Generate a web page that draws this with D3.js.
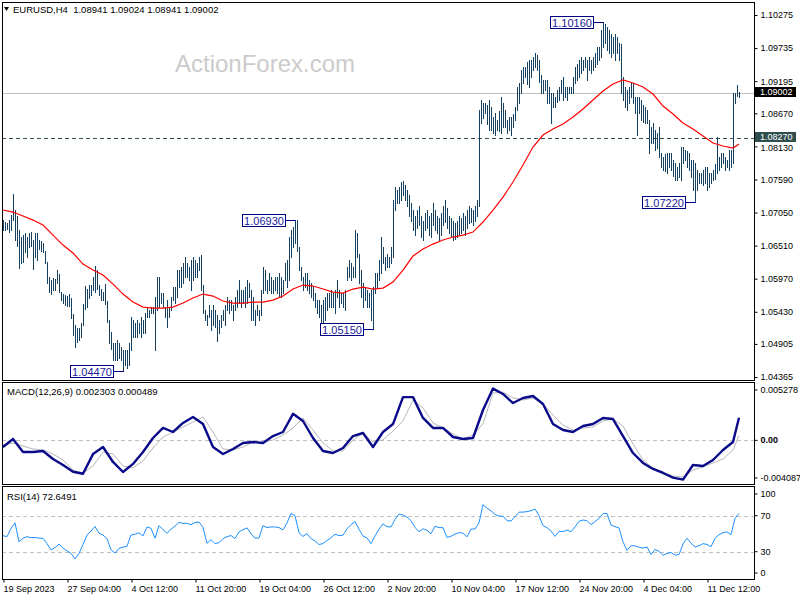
<!DOCTYPE html>
<html><head><meta charset="utf-8"><title>EURUSD H4</title>
<script src="https://cdn.jsdelivr.net/npm/d3@7"></script>
<style>
html,body{margin:0;padding:0;background:#fff;}
svg{display:block;font-family:"Liberation Sans",Arial,sans-serif;}
</style></head><body>
<svg id="chart" width="800" height="600"></svg>
<script>
// ---------------- DATA ----------------
const symbolTitle = "EURUSD,H4  1.08941 1.09024 1.08941 1.09002";
const macdTitle = "MACD(12,26,9) 0.002303 0.000489";
const rsiTitle = "RSI(14) 72.6491";
const watermark = "ActionForex.com";

const timeBars = [0,32,64,96,128,160,192,224,256,288,320,352];
const timeLabels = ["19 Sep 2023","27 Sep 04:00","4 Oct 12:00","11 Oct 20:00","19 Oct 04:00","26 Oct 12:00","2 Nov 20:00","10 Nov 04:00","17 Nov 12:00","24 Nov 20:00","4 Dec 04:00","11 Dec 12:00"];

const priceTicks = [1.10275,1.09735,1.09195,1.08670,1.08130,1.07590,1.07050,1.06510,1.05970,1.05430,1.04905,1.04365];
const bidPrice = 1.09002;
const levelPrice = 1.08270;

const barHigh = [
1.0693,1.0690,1.0688,1.0693,1.0701,1.0736,1.0709,1.0700,1.0676,1.0665,
1.0668,1.0672,1.0665,1.0672,1.0674,1.0660,1.0672,1.0672,1.0660,1.0658,
1.0655,1.0643,1.0624,1.0600,1.0595,1.0598,1.0596,1.0611,1.0605,1.0575,
1.0572,1.0570,1.0568,1.0572,1.0565,1.0540,1.0521,1.0516,1.0516,1.0525,
1.0555,1.0585,1.0580,1.0586,1.0586,1.0600,1.0618,1.0612,1.0586,1.0580,
1.0575,1.0588,1.0560,1.0530,1.0510,1.0492,1.0492,1.0497,1.0492,1.0485,
1.0480,1.0480,1.0480,1.0492,1.0534,1.0529,1.0524,1.0529,1.0524,1.0534,
1.0529,1.0541,1.0551,1.0546,1.0551,1.0551,1.0567,1.0600,1.0600,1.0573,
1.0573,1.0551,1.0562,1.0551,1.0567,1.0584,1.0584,1.0611,1.0611,1.0616,
1.0622,1.0632,1.0622,1.0616,1.0627,1.0632,1.0627,1.0622,1.0632,
1.0636,1.0586,1.0546,1.0537,1.0554,1.0546,1.0554,1.0546,1.0537,1.0529,
1.0537,1.0546,1.0554,1.0567,1.0562,1.0562,1.0554,1.0567,1.0578,1.0595,
1.0578,1.0578,1.0584,1.0595,1.0590,1.0578,1.0567,1.0546,1.0554,1.0546,
1.0578,1.0616,1.0611,1.0595,1.0606,1.0600,1.0595,1.0600,1.0600,1.0606,
1.0600,1.0595,1.0622,1.0627,1.0665,1.0676,1.0681,1.0693,1.0693,1.0649,
1.0616,1.0600,1.0606,1.0606,1.0595,1.0590,1.0584,1.0573,1.0562,1.0562,
1.0554,1.0562,1.0567,1.0573,1.0573,1.0578,1.0573,1.0578,1.0595,1.0578,
1.0573,1.0573,1.0578,1.0616,1.0627,1.0622,1.0616,1.0676,1.0671,1.0638,
1.0611,1.0590,1.0584,1.0578,1.0573,1.0578,1.0584,1.0606,1.0606,1.0627,
1.0665,1.0649,1.0632,1.0638,1.0632,1.0649,1.0725,1.0746,1.0741,
1.0746,1.0755,1.0757,1.0750,1.0741,1.0733,1.0720,1.0709,1.0700,1.0709,
1.0716,1.0700,1.0692,1.0704,1.0709,1.0700,1.0704,1.0720,1.0709,1.0700,
1.0696,1.0704,1.0716,1.0725,1.0712,1.0700,1.0696,1.0692,1.0688,1.0692,
1.0700,1.0696,1.0704,1.0700,1.0709,1.0716,1.0712,1.0709,1.0716,1.0725,
1.0872,
1.0888,1.0884,1.0884,1.0880,1.0888,1.0877,1.0861,1.0867,1.0856,1.0870,
1.0894,1.0884,1.0872,1.0856,1.0861,1.0861,1.0866,1.0877,1.0910,1.0916,
1.0937,1.0943,1.0943,1.0950,1.0954,1.0954,1.0959,1.0965,1.0962,1.0954,
1.0930,1.0921,1.0921,1.0921,1.0910,1.0900,1.0900,1.0894,1.0905,1.0910,
1.0921,1.0926,1.0910,1.0910,1.0910,1.0910,1.0926,1.0943,1.0948,1.0954,
1.0959,1.0954,1.0959,1.0954,1.0959,1.0954,1.0959,1.0965,1.0976,1.0976,
1.1003,1.1016,1.1012,1.1008,1.1003,1.0997,1.0992,1.0997,1.0992,1.0982,
1.0980,1.0926,1.0910,1.0905,1.0910,1.0916,1.0916,1.0894,1.0894,
1.0894,1.0889,1.0880,1.0877,1.0872,1.0856,1.0845,1.0851,1.0840,1.0835,
1.0845,1.0802,1.0796,1.0800,1.0802,1.0802,1.0802,1.0790,1.0786,1.0779,
1.0786,1.0812,1.0812,1.0807,1.0805,1.0802,1.0791,1.0791,1.0786,1.0774,
1.0769,1.0769,1.0775,1.0779,1.0779,1.0769,1.0769,1.0774,1.0785,1.0828,
1.0796,1.0802,1.0802,1.0796,1.0791,1.0807,1.0807,1.0900,1.0900,1.0913,
1.0902
];
const barLow = [
1.0676,1.0676,1.0678,1.0673,1.0676,1.0693,1.0660,1.0650,1.0615,1.0622,
1.0625,1.0640,1.0633,1.0648,1.0650,1.0613,1.0633,1.0628,1.0645,1.0643,
1.0640,1.0622,1.0590,1.0575,1.0572,1.0578,1.0578,1.0590,1.0575,1.0562,
1.0557,1.0554,1.0553,1.0553,1.0533,1.0505,1.0485,1.0493,1.0497,1.0502,
1.0521,1.0547,1.0551,1.0565,1.0570,1.0578,1.0575,1.0580,1.0570,1.0562,
1.0562,1.0555,1.0527,1.0492,1.0482,1.0464,1.0464,1.0464,1.0467,1.0464,
1.0447,1.0456,1.0452,1.0456,1.0480,1.0502,1.0502,1.0502,1.0508,1.0502,
1.0508,1.0508,1.0535,1.0535,1.0541,1.0541,1.0480,1.0546,1.0551,1.0557,
1.0551,1.0535,1.0518,1.0535,1.0546,1.0562,1.0557,1.0567,1.0584,1.0584,
1.0590,1.0600,1.0600,1.0595,1.0578,1.0595,1.0600,1.0600,1.0611,
1.0578,1.0541,1.0529,1.0521,1.0534,1.0513,1.0521,1.0518,1.0496,1.0508,
1.0518,1.0529,1.0521,1.0546,1.0541,1.0546,1.0529,1.0546,1.0551,1.0557,
1.0551,1.0557,1.0551,1.0557,1.0567,1.0529,1.0529,1.0521,1.0537,1.0529,
1.0537,1.0573,1.0578,1.0573,1.0578,1.0573,1.0573,1.0578,1.0573,1.0567,
1.0567,1.0573,1.0595,1.0584,1.0595,1.0632,1.0649,1.0655,1.0643,1.0611,
1.0595,1.0578,1.0584,1.0578,1.0573,1.0567,1.0562,1.0551,1.0541,1.0534,
1.0521,1.0521,1.0529,1.0546,1.0551,1.0551,1.0551,1.0541,1.0567,1.0551,
1.0557,1.0551,1.0546,1.0595,1.0600,1.0595,1.0600,1.0600,1.0632,1.0590,
1.0567,1.0551,1.0562,1.0551,1.0551,1.0529,1.0515,1.0573,1.0584,1.0595,
1.0606,1.0622,1.0611,1.0616,1.0616,1.0622,1.0632,1.0709,1.0720,
1.0720,1.0725,1.0733,1.0725,1.0716,1.0700,1.0692,1.0676,1.0668,1.0680,
1.0684,1.0665,1.0660,1.0676,1.0680,1.0668,1.0665,1.0684,1.0676,1.0672,
1.0660,1.0668,1.0684,1.0690,1.0680,1.0672,1.0665,1.0660,1.0662,1.0665,
1.0668,1.0672,1.0676,1.0668,1.0680,1.0688,1.0690,1.0684,1.0692,1.0700,
1.0715,
1.0851,1.0860,1.0867,1.0850,1.0840,1.0840,1.0835,1.0831,1.0840,1.0838,
1.0835,1.0845,1.0845,1.0835,1.0840,1.0831,1.0845,1.0856,1.0872,1.0884,
1.0900,1.0916,1.0926,1.0915,1.0910,1.0926,1.0937,1.0943,1.0937,1.0918,
1.0900,1.0900,1.0905,1.0884,1.0884,1.0851,1.0877,1.0877,1.0885,1.0889,
1.0900,1.0889,1.0894,1.0889,1.0900,1.0900,1.0900,1.0916,1.0921,1.0926,
1.0932,1.0937,1.0943,1.0921,1.0937,1.0932,1.0937,1.0943,1.0948,1.0954,
1.0959,1.0976,1.0982,1.0970,1.0965,1.0959,1.0965,1.0954,1.0965,1.0954,
1.0900,1.0889,1.0877,1.0872,1.0884,1.0894,1.0884,1.0867,1.0831,
1.0867,1.0856,1.0853,1.0851,1.0851,1.0802,1.0818,1.0818,1.0807,1.0810,
1.0796,1.0779,1.0774,1.0772,1.0769,1.0779,1.0774,1.0765,1.0758,1.0758,
1.0763,1.0758,1.0786,1.0791,1.0780,1.0774,1.0763,1.0742,1.0722,1.0742,
1.0753,1.0753,1.0750,1.0753,1.0742,1.0747,1.0753,1.0758,1.0760,1.0769,
1.0774,1.0779,1.0786,1.0774,1.0779,1.0774,1.0779,1.0786,1.0884,1.0895,
1.0894
];

// moving average (red), one value every 5 bars plus the last bar
const maBars = [0,5,10,15,20,25,30,35,40,45,50,55,60,65,70,75,80,85,90,95,100,105,110,115,120,125,130,135,140,145,150,155,160,165,170,175,180,185,190,195,200,205,210,215,220,225,230,235,240,245,250,255,260,265,270,275,280,285,290,295,300,305,310,315,320,325,330,335,340,345,350,355,360,365,368];
const maValues = [
1.07091,1.07058,1.06993,1.06927,1.06846,1.06682,1.06519,1.06389,1.06209,1.06111,
1.06029,1.05882,1.05719,1.05588,1.05507,1.05490,1.05490,1.05507,1.05572,1.05654,
1.05719,1.05686,1.05605,1.05572,1.05572,1.05588,1.05588,1.05621,1.05686,1.05801,
1.05866,1.05850,1.05801,1.05752,1.05735,1.05801,1.05833,1.05801,1.05817,1.05915,
1.06111,1.06340,1.06454,1.06535,1.06601,1.06650,1.06682,1.06731,1.06895,1.07091,
1.07303,1.07548,1.07826,1.08119,1.08315,1.08413,1.08495,1.08609,1.08740,1.08887,
1.09034,1.09148,1.09214,1.09165,1.09099,1.08985,1.08789,1.08658,1.08511,1.08413,
1.08299,1.08185,1.08136,1.08103,1.08168
];

// MACD main and signal, same bar positions as maBars
const macdValues = [
-0.00068,0.00014,-0.00119,-0.00119,-0.00108,-0.00190,-0.00251,-0.00320,-0.00340,-0.00140,
-0.00068,-0.00220,-0.00322,-0.00240,-0.00119,0.00024,0.00126,0.00085,0.00177,0.00238,
0.00166,-0.00068,-0.00139,-0.00088,-0.00027,-0.00017,-0.00027,0.00044,0.00085,0.00270,
0.00197,0.00024,-0.00108,-0.00129,-0.00078,0.00044,0.00075,-0.00068,0.00085,0.00166,
0.00440,0.00440,0.00228,0.00126,0.00126,0.00034,0.00014,0.00024,0.00309,0.00527,
0.00472,0.00380,0.00431,0.00451,0.00370,0.00166,0.00105,0.00085,0.00146,0.00166,
0.00228,0.00217,0.00044,-0.00129,-0.00230,-0.00291,-0.00332,-0.00380,-0.00400,-0.00251,
-0.00261,-0.00200,-0.00098,-0.00017,0.002303
];
const signalValues = [
-0.00047,-0.00027,-0.00058,-0.00088,-0.00098,-0.00139,-0.00200,-0.00302,-0.00332,-0.00261,
-0.00119,-0.00139,-0.00261,-0.00281,-0.00210,-0.00078,0.00034,0.00085,0.00136,0.00187,
0.00238,0.00085,-0.00088,-0.00098,-0.00068,-0.00017,-0.00017,0.00004,0.00054,0.00126,
0.00228,0.00105,-0.00027,-0.00108,-0.00108,0.00004,0.00075,-0.00017,0.00004,0.00095,
0.00197,0.00411,0.00330,0.00177,0.00126,0.00065,0.00014,0.00054,0.00170,0.00482,
0.00492,0.00431,0.00411,0.00431,0.00370,0.00258,0.00156,0.00105,0.00126,0.00136,
0.00197,0.00217,0.00146,-0.00037,-0.00200,-0.00281,-0.00322,-0.00363,-0.00373,-0.00302,
-0.00271,-0.00230,-0.00190,-0.00098,0.000489
];
const macdMax = 0.005278, macdMin = -0.004087;

// RSI(14), one value every 2 bars (bars 0,2,...,368)
const rsiValues = [
47.8,46.7,56,62,41,44.9,46.7,45.6,45.8,45,
44.9,39,32,34.5,38.5,34,31,28,22,28,
38,48.5,53,58,50.5,48.5,44.5,32,28.5,33.7,
35.2,36,48.5,49.5,51,47.5,57.5,56,45,59,
54.5,50.4,55,58.5,62.5,61.5,61.5,60,62.5,63,
57,39.3,43.5,39,40,44.5,46.7,48,44.5,52,
54.5,56.5,50,44.9,45.4,59,56.8,57.5,57.5,56.8,
54.3,62,72.6,70,51,47,50,44.5,42,38,
39,42.5,45.5,49.5,48,48.3,55.5,60,63.5,55,
47.2,45.4,39,47.5,55,61,57.7,57.5,66,71.8,
70.8,68.5,64.5,57,52.2,55.5,53.8,50,58.3,56.8,
56.7,45.8,47.2,49.5,51.2,50.5,46.5,55.2,55.2,62,
82.3,78.5,75.4,71.5,69.5,69.5,64.5,64.1,68.9,73.9,
74,74.5,75.5,77.4,70,59,56.7,53,47,52.5,
52.4,54,52.2,57.5,63.8,65.2,64.5,60,63.4,67,
72.3,72.5,59.6,57.8,56.5,41,31.5,36.5,36.5,35,
34,35.3,27,32.5,30.5,26,28,29,26.3,26.8,
38.5,45,39.5,35.2,36.5,39,38,35.5,45,48.8,
51.2,52,49,67,72.6491
];
const rsiLevels = [70, 30];
const rsiTicks = [100, 70, 30, 0];

// labelled swing points
const swingLabels = ["1.10160","1.06930","1.05150","1.04470","1.07220"];
const swingValues = [1.1016, 1.0693, 1.0515, 1.0447, 1.0722];
const swingBars = [300, 146, 185, 60, 346];

// ---------------- DRAW ----------------
const svg = d3.select("#chart");
const FONT = '"Liberation Sans", Arial, sans-serif';
const N = barHigh.length;
const L = 2, R = 754;
const P = {main:[2,380], macd:[382,484], rsi:[486,579]};

const x = d3.scaleLinear().domain([0, N-1]).range([3, 3 + 2*(N-1)]);
const yP = d3.scaleLinear().domain([1.04365, 1.10275]).range([377, 15]);
const yM = d3.scaleLinear().domain([macdMin, macdMax]).range([480.5, 388.5]);
const yR = d3.scaleLinear().domain([0, 100]).range([578.7, 488.7]);
const crisp = v => Math.round(v) + 0.5;

const defs = svg.append("defs");
Object.entries(P).forEach(([k,[t,b]]) => {
  defs.append("clipPath").attr("id","clip-"+k).append("rect")
    .attr("x",L).attr("y",t).attr("width",R-L).attr("height",b-t);
});

svg.append("rect").attr("width",800).attr("height",600).attr("fill","#fff");

// watermark
svg.append("text").attr("x",175).attr("y",72).attr("font-size",24)
  .attr("font-family",FONT).attr("fill","#cbcbcb").text(watermark);

// ---- main panel
const gMain = svg.append("g").attr("clip-path","url(#clip-main)");
gMain.append("line").attr("x1",L).attr("x2",R)
  .attr("y1",crisp(yP(bidPrice))).attr("y2",crisp(yP(bidPrice)))
  .attr("stroke","#c0c0c0").attr("stroke-width",1);
gMain.append("line").attr("x1",L).attr("x2",R)
  .attr("y1",crisp(yP(levelPrice))).attr("y2",crisp(yP(levelPrice)))
  .attr("stroke","#2f4f4f").attr("stroke-width",1).attr("stroke-dasharray","4,3");

gMain.append("g").selectAll("line").data(d3.range(N)).join("line")
  .attr("x1", i => x(i) + 0.5).attr("x2", i => x(i) + 0.5)
  .attr("y1", i => Math.round(yP(barHigh[i])))
  .attr("y2", i => Math.round(yP(barLow[i])) + 1)
  .attr("stroke","#15405f").attr("stroke-width",1)
  .attr("shape-rendering","crispEdges");

gMain.append("path").datum(maValues)
  .attr("d", d3.line().x((d,j) => x(maBars[j])).y(d => yP(d)))
  .attr("fill","none").attr("stroke","#ff0000").attr("stroke-width",1.2);

// swing labels
swingLabels.forEach((lab, j) => {
  const bx = x(swingBars[j]);
  const vy = Math.round(yP(swingValues[j])) + 0.5;
  const w = 43, h = 12;
  const rx = bx - 10 - w;
  gMain.append("line").attr("x1", rx + w).attr("x2", bx + 1).attr("y1", vy).attr("y2", vy)
    .attr("stroke","#000080").attr("stroke-width",1);
  gMain.append("rect").attr("x", Math.round(rx) + 0.5).attr("y", vy - h/2)
    .attr("width", w).attr("height", h).attr("fill","#fff").attr("stroke","#000080");
  gMain.append("text").attr("x", rx + w/2 + 0.5).attr("y", vy + 4)
    .attr("text-anchor","middle").attr("font-size",11).attr("font-family",FONT)
    .attr("fill","#1a1a9a").text(lab);
});

// header
svg.append("path").attr("d","M4,7 L9,7 L6.5,11 Z").attr("fill","#000");
svg.append("text").attr("x",13).attr("y",13).attr("font-size",9.5)
  .attr("font-family",FONT).attr("fill","#000").attr("xml:space","preserve").text(symbolTitle);

// ---- MACD panel
const gM = svg.append("g").attr("clip-path","url(#clip-macd)");
gM.append("line").attr("x1",L).attr("x2",R).attr("y1",crisp(yM(0))).attr("y2",crisp(yM(0)))
  .attr("stroke","#c0c0c0").attr("stroke-dasharray","4,3");
gM.append("path").datum(signalValues)
  .attr("d", d3.line().x((d,j) => x(maBars[j])).y(d => yM(d)))
  .attr("fill","none").attr("stroke","#b8b8b8").attr("stroke-width",1);
gM.append("path").datum(macdValues)
  .attr("d", d3.line().x((d,j) => x(maBars[j])).y(d => yM(d)))
  .attr("fill","none").attr("stroke","#0a0a8a").attr("stroke-width",2.4)
  .attr("stroke-linejoin","round");
svg.append("text").attr("x",7).attr("y",395).attr("font-size",9.5)
  .attr("font-family",FONT).attr("fill","#000").text(macdTitle);

// ---- RSI panel
const gR = svg.append("g").attr("clip-path","url(#clip-rsi)");
rsiLevels.forEach(v => {
  gR.append("line").attr("x1",L).attr("x2",R).attr("y1",crisp(yR(v))).attr("y2",crisp(yR(v)))
    .attr("stroke","#c0c0c0").attr("stroke-dasharray","4,3");
});
gR.append("path").datum(rsiValues)
  .attr("d", d3.line().x((d,j) => x(j*2)).y(d => yR(d)))
  .attr("fill","none").attr("stroke","#1e90ff").attr("stroke-width",1);
svg.append("text").attr("x",7).attr("y",500).attr("font-size",9.5)
  .attr("font-family",FONT).attr("fill","#000").text(rsiTitle);

// ---- panel borders
Object.values(P).forEach(([t,b]) => {
  svg.append("rect").attr("x",L+0.5).attr("y",t+0.5).attr("width",R-L).attr("height",b-t)
    .attr("fill","none").attr("stroke","#000").attr("stroke-width",1);
});

function styleAxis(g, size) {
  g.attr("font-family",FONT).attr("font-size",size);
  g.select(".domain").remove();
  g.selectAll("line").attr("stroke","#000");
  g.selectAll("text").attr("fill","#000");
}

// price axis
const axP = svg.append("g").attr("transform",`translate(${R+0.5},0)`)
  .call(d3.axisRight(yP).tickValues(priceTicks).tickSize(3).tickPadding(3).tickFormat(d => d.toFixed(5)));
styleAxis(axP, 9);
axP.selectAll(".tick text").filter(d => d === 1.08130).attr("dy","0.45em");

// bid / level boxes
[[bidPrice,"#000000"],[levelPrice,"#2f4f4f"]].forEach(([v,c]) => {
  const vy = Math.floor(yP(v));
  svg.append("rect").attr("x",755).attr("y",vy-5).attr("width",41).attr("height",10).attr("fill",c);
  svg.append("text").attr("x",760).attr("y",vy+3).attr("font-size",9).attr("font-family",FONT)
    .attr("fill","#fff").text(v.toFixed(5));
});

// MACD axis
const macdTicks = [macdMax, 0, macdMin];
const axM = svg.append("g").attr("transform",`translate(${R+0.5},0)`)
  .call(d3.axisRight(yM).tickValues(macdTicks).tickSize(3).tickPadding(3)
    .tickFormat(d => d === 0 ? "0.00" : d.toFixed(6)));
styleAxis(axM, 9);
axM.selectAll(".tick").attr("transform", d => `translate(0,${Math.min(478, Math.max(390, yM(d)))})`);
axM.selectAll(".tick text").filter(d => d === 0).attr("font-weight","bold");

// RSI axis
const axR = svg.append("g").attr("transform",`translate(${R+0.5},0)`)
  .call(d3.axisRight(yR).tickValues(rsiTicks).tickSize(3).tickPadding(3).tickFormat(d3.format("d")));
styleAxis(axR, 9);
axR.selectAll(".tick").attr("transform", d => `translate(0,${Math.min(573, Math.max(494, yR(d)))})`);

// time axis
const axT = svg.append("g").attr("transform",`translate(0,${P.rsi[1]+0.5})`)
  .call(d3.axisBottom(x).tickValues(timeBars).tickSize(3).tickPadding(3)
    .tickFormat((d,j) => timeLabels[j]));
styleAxis(axT, 9);
axT.selectAll(".tick line").attr("transform","translate(0.5,0)");
axT.selectAll(".tick text").attr("text-anchor","start").attr("x",0);
</script>
</body></html>
